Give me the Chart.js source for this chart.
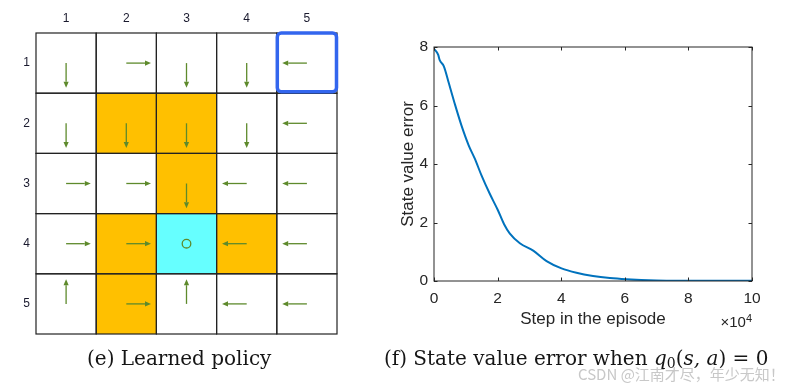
<!DOCTYPE html>
<html>
<head>
<meta charset="utf-8">
<script src="https://cdn.jsdelivr.net/npm/chart.js@4.4.1/dist/chart.umd.min.js"></script>
<style>
  html, body { margin: 0; padding: 0; background: #fff; }
  #wrap { position: relative; width: 794px; height: 386px; overflow: hidden; }
  canvas { position: absolute; top: 0; }
  #grid { left: 0; }
  #err { left: 380px; }
  .cap { position: absolute; font-family: "DejaVu Serif", serif; font-size: 20px; color: #151515; white-space: nowrap; line-height: 1; }
  .cap i { font-style: italic; }
  .cap sub { font-size: 14px; vertical-align: -3px; line-height: 0; }
  #wm { position: absolute; left: 578px; top: 366px; font-family: "Noto Sans CJK SC", sans-serif; font-size: 15px; line-height: 1; color: #c8c8c8; white-space: nowrap; }
</style>
</head>
<body>
<div id="wrap">
  <canvas id="grid" width="360" height="386" style="width:360px;height:386px"></canvas>
  <canvas id="err" width="414" height="386" style="width:414px;height:386px"></canvas>
  <div class="cap" style="left:87px;top:348px">(e) Learned policy</div>
  <div class="cap" style="left:384px;top:348px">(f) State value error when <i>q</i><sub>0</sub>(<i>s, a</i>) = 0</div>
  <div id="wm">CSDN @江南才尽，年少无知！</div>
</div>
<script>
// grid world
const cols = [1, 2, 3, 4, 5];
const rows = [1, 2, 3, 4, 5];
// d = down, u = up, l = left, r = right, o = stay
const policy = [
  ['d', 'r', 'd', 'd', 'l'],
  ['d', 'd', 'd', 'd', 'l'],
  ['r', 'r', 'd', 'l', 'l'],
  ['r', 'r', 'o', 'l', 'l'],
  ['u', 'r', 'u', 'l', 'l']
];
const forbidden = [[2, 2], [2, 3], [3, 3], [4, 2], [4, 4], [5, 2]]; // [row, col]
const target = [4, 3];
const start = [1, 5];

// state value error curve (x in units of 10^4)
const steps = [0, 0.13, 0.18, 0.31, 0.47, 0.65, 0.86, 1.09, 1.28, 1.49, 1.75, 2.01, 2.2, 2.38, 2.7, 3.12, 3.54, 4.01, 4.48, 5.0, 5.53, 6.05, 7.0, 8.0, 9.0, 10.0];
const errors = [7.94, 7.74, 7.55, 7.34, 6.75, 6.07, 5.33, 4.64, 4.19, 3.62, 2.99, 2.42, 1.95, 1.63, 1.29, 1.04, 0.68, 0.43, 0.28, 0.17, 0.1, 0.06, 0.02, 0.01, 0.006, 0.005];
const xTicks = [0, 2, 4, 6, 8, 10];
const yTicks = [0, 2, 4, 6, 8];

const axisColor = '#262626';
const sans = '"Liberation Sans", Arial, sans-serif';

const dirs = { d: [0, 1], u: [0, -1], l: [-1, 0], r: [1, 0] };

const gridWorld = {
  id: 'gridWorld',
  beforeDatasetsDraw(chart) {
    const { ctx } = chart;
    const x = chart.scales.x, y = chart.scales.y;
    const isIn = (list, r, c) => list.some(p => p[0] === r && p[1] === c);
    const cell = (r, c) => ({
      l: x.getPixelForValue(c - 0.5), r: x.getPixelForValue(c + 0.5),
      t: y.getPixelForValue(r - 0.5), b: y.getPixelForValue(r + 0.5)
    });
    ctx.save();
    rows.forEach(r => cols.forEach(c => {
      const b = cell(r, c);
      let fill = '#ffffff';
      if (isIn(forbidden, r, c)) fill = '#ffc000';
      if (target[0] === r && target[1] === c) fill = '#66ffff';
      ctx.fillStyle = fill;
      ctx.fillRect(b.l, b.t, b.r - b.l, b.b - b.t);
    }));
    ctx.strokeStyle = '#222';
    ctx.lineWidth = 1.2;
    rows.forEach(r => cols.forEach(c => {
      const b = cell(r, c);
      ctx.strokeRect(b.l, b.t, b.r - b.l, b.b - b.t);
    }));
    // arrows
    ctx.strokeStyle = '#5e8a2c';
    ctx.fillStyle = '#5e8a2c';
    ctx.lineWidth = 1.3;
    rows.forEach(r => cols.forEach(c => {
      const a = policy[r - 1][c - 1];
      const cx = x.getPixelForValue(c), cy = y.getPixelForValue(r);
      if (a === 'o') {
        ctx.beginPath();
        ctx.arc(cx, cy, 4.3, 0, Math.PI * 2);
        ctx.stroke();
        return;
      }
      const [dx, dy] = dirs[a];
      const ex = x.getPixelForValue(c + dx * 0.41), ey = y.getPixelForValue(r + dy * 0.41);
      const ux = Math.sign(ex - cx), uy = Math.sign(ey - cy);
      const hl = 6, hw = 2.6;
      ctx.beginPath();
      ctx.moveTo(cx, cy);
      ctx.lineTo(ex - ux * hl, ey - uy * hl);
      ctx.stroke();
      ctx.beginPath();
      ctx.moveTo(ex, ey);
      ctx.lineTo(ex - ux * hl - uy * hw, ey - uy * hl + ux * hw);
      ctx.lineTo(ex - ux * hl + uy * hw, ey - uy * hl - ux * hw);
      ctx.closePath();
      ctx.fill();
    }));
    // start cell highlight
    const s = cell(start[0], start[1]);
    ctx.strokeStyle = '#3366ee';
    ctx.lineWidth = 3.5;
    ctx.beginPath();
    ctx.roundRect(s.l + 0.5, s.t, s.r - s.l - 1, s.b - s.t - 1.5, 4);
    ctx.stroke();
    ctx.restore();
  }
};

new Chart(document.getElementById('grid'), {
  type: 'scatter',
  data: { datasets: [{ data: [] }] },
  options: {
    responsive: false,
    animation: false,
    layout: { padding: { top: 0, left: 0, right: 23, bottom: 52 } },
    plugins: { legend: { display: false }, tooltip: { enabled: false } },
    scales: {
      x: {
        type: 'linear', position: 'top', min: 0.5, max: 5.5,
        afterBuildTicks: s => { s.ticks = cols.map(v => ({ value: v })); },
        afterFit: s => { s.height = 33; },
        grid: { display: false, drawTicks: false }, border: { display: false },
        ticks: { color: '#1a1a2e', font: { family: sans, size: 12 }, padding: 7 }
      },
      y: {
        type: 'linear', reverse: true, min: 0.5, max: 5.5,
        afterBuildTicks: s => { s.ticks = rows.map(v => ({ value: v })); },
        afterFit: s => { s.width = 36; },
        grid: { display: false, drawTicks: false }, border: { display: false },
        ticks: { color: '#1a1a2e', font: { family: sans, size: 12 }, padding: 6 }
      }
    }
  },
  plugins: [gridWorld]
});

const matlabBox = {
  id: 'matlabBox',
  afterDraw(chart) {
    const { ctx, chartArea: a } = chart;
    const x = chart.scales.x, y = chart.scales.y;
    const tl = 3.5;
    ctx.save();
    ctx.strokeStyle = axisColor;
    ctx.lineWidth = 1;
    ctx.strokeRect(a.left, a.top, a.right - a.left, a.bottom - a.top);
    ctx.beginPath();
    xTicks.forEach(v => {
      const px = Math.round(x.getPixelForValue(v)) + 0.5;
      ctx.moveTo(px, a.bottom); ctx.lineTo(px, a.bottom - tl);
      ctx.moveTo(px, a.top); ctx.lineTo(px, a.top + tl);
    });
    yTicks.forEach(v => {
      const py = Math.round(y.getPixelForValue(v)) + 0.5;
      ctx.moveTo(a.left, py); ctx.lineTo(a.left + tl, py);
      ctx.moveTo(a.right, py); ctx.lineTo(a.right - tl, py);
    });
    ctx.stroke();
    // exponent label
    ctx.fillStyle = axisColor;
    ctx.textBaseline = 'alphabetic';
    ctx.textAlign = 'right';
    ctx.font = '11px ' + sans;
    ctx.fillText('4', a.right, a.bottom + 41);
    const w4 = ctx.measureText('4').width;
    ctx.font = '15px ' + sans;
    ctx.fillText('×10', a.right - w4, a.bottom + 46);
    ctx.restore();
  }
};

new Chart(document.getElementById('err'), {
  type: 'line',
  data: {
    datasets: [{
      data: steps.map((s, i) => ({ x: s, y: errors[i] })),
      borderColor: '#0072bd',
      borderWidth: 2,
      pointRadius: 0,
      tension: 0.3,
      cubicInterpolationMode: 'monotone',
      fill: false
    }]
  },
  options: {
    responsive: false,
    animation: false,
    layout: { padding: { top: 47, right: 42, left: 0, bottom: 0 } },
    plugins: { legend: { display: false }, tooltip: { enabled: false } },
    scales: {
      x: {
        type: 'linear', min: 0, max: 10,
        afterBuildTicks: s => { s.ticks = xTicks.map(v => ({ value: v })); },
        afterFit: s => { s.height = 105; },
        grid: { display: false, drawTicks: false }, border: { display: false },
        ticks: { color: axisColor, font: { family: sans, size: 15.5 }, padding: 8, maxRotation: 0 },
        title: { display: true, text: 'Step in the episode', color: axisColor, font: { family: sans, size: 17 }, padding: { top: 0, bottom: 56 } }
      },
      y: {
        type: 'linear', min: 0, max: 8,
        afterBuildTicks: s => { s.ticks = yTicks.map(v => ({ value: v })); },
        afterFit: s => { s.width = 54; },
        grid: { display: false, drawTicks: false }, border: { display: false },
        ticks: { color: axisColor, font: { family: sans, size: 15.5 }, padding: 6 },
        title: { display: true, text: 'State value error', color: axisColor, font: { family: sans, size: 17 }, padding: { top: 18, bottom: 0 } }
      }
    }
  },
  plugins: [matlabBox]
});
</script>
</body>
</html>
